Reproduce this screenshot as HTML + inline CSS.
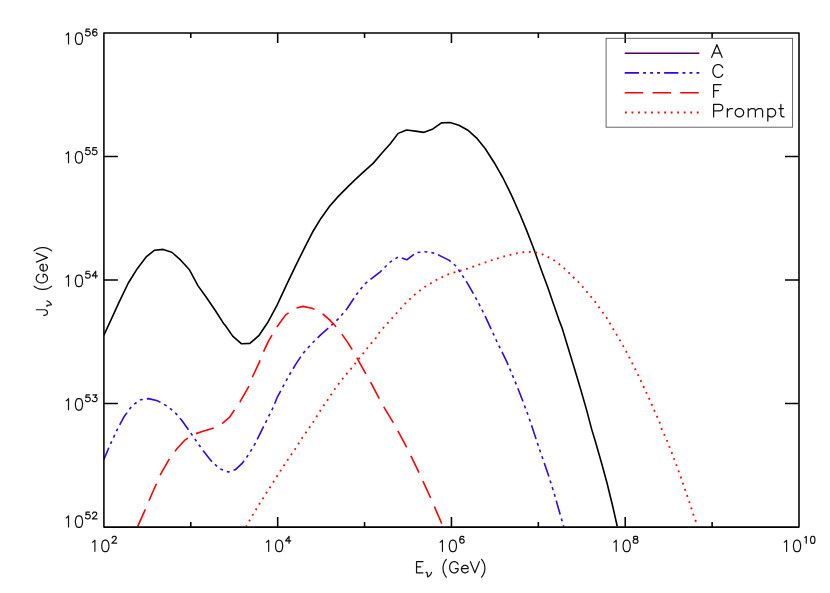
<!DOCTYPE html>
<html><head><meta charset="utf-8"><title>Plot</title>
<style>html,body{margin:0;padding:0;background:#fff;font-family:"Liberation Sans",sans-serif}svg{display:block}</style></head>
<body>
<svg width="830" height="593" viewBox="0 0 830 593">
<rect width="830" height="593" fill="#fff"/>
<defs><clipPath id="cp"><rect x="103.90" y="32.95" width="695.10" height="494.95"/></clipPath></defs>
<g fill="none" stroke-width="1.60" stroke-linejoin="round" clip-path="url(#cp)">
<path d="M103.64,335.60L112.14,317.40L119.22,301.82L128.32,283.00L137.43,268.44L146.13,256.91L154.62,250.23L163.12,249.42L171.82,252.25L180.52,259.94L189.22,269.45L197.92,285.63L206.62,297.77L215.31,310.52L224.01,324.07L225.00,324.97L232.69,336.10L241.59,343.78L249.88,343.38L258.79,335.69L267.69,322.54L277.20,304.94L286.50,284.91L295.60,265.90L303.90,249.10L312.20,232.77L320.90,218.41L329.59,206.27L338.29,196.36L346.99,187.66L355.69,179.16L364.39,171.07L373.09,163.38L381.79,153.27L390.49,143.55L398.15,133.38L406.65,129.94L415.35,131.16L424.05,132.37L432.95,128.93L441.44,122.86L450.14,122.46L458.84,125.29L467.54,129.94L476.44,137.83L485.14,148.55L494.25,162.71L502.74,177.48L511.44,195.08L519.94,214.30L526.62,230.35L532.48,245.52L535.52,253.61L541.59,270.81L547.66,286.99L553.93,305.20L558.78,319.36L562.17,328.21L568.64,349.45L574.51,368.67L580.58,388.90L586.65,410.14L591.70,429.36L595.61,442.25L601.68,463.50L606.94,482.71L612.40,504.97L617.25,526.21" stroke="#000"/>
<path d="M103.64,459.91L110.12,444.74L117.20,429.57L124.28,416.42L132.37,405.29L140.46,399.83L148.55,398.61L157.66,400.84L166.76,405.90L174.85,412.37L181.93,420.46L189.01,430.58L196.10,440.69L203.18,450.81L211.27,460.92L219.33,468.55L228.44,471.99L235.52,469.57L242.60,462.89L248.67,454.39L254.74,444.28L260.81,432.14L265.46,422.83L272.54,408.67L277.60,396.53L283.67,385.40L289.74,374.28L295.81,364.16L301.88,355.06L303.49,352.89L312.19,343.18L320.89,334.68L329.59,326.99L338.29,318.90L346.99,308.78L355.69,295.63L364.39,284.28L371.47,278.61L380.58,271.53L389.68,262.43L398.38,256.76L406.88,259.80L415.98,252.72L424.68,251.70L433.38,252.92L439.25,255.35L449.36,260.40L456.44,266.47L466.30,281.47L473.38,293.61L479.45,304.74L485.52,316.88L491.59,330.03L497.66,343.18L502.71,353.29L507.43,363.15L512.48,375.29L517.54,387.43L523.00,401.59L528.67,416.76L534.74,434.97L539.80,450.14L548.55,475.40L554.22,493.61L559.68,512.83L563.73,526.59" stroke="#3705E1" stroke-dasharray="14.35 4.12 2.93 4.12 2.93 4.12 2.93 4.12" stroke-dashoffset="1.1"/>
<path d="M137.43,527.02L144.91,510.43L152.20,493.23L160.69,474.07L168.78,459.91L176.88,448.78L184.97,440.08L193.06,434.62L202.16,431.59L212.28,428.55L221.38,424.10L229.48,417.43L235.55,408.32L240.00,401.85L248.27,387.43L252.31,377.31L259.39,362.14L263.44,351.88L268.50,341.15L276.59,327.40L285.69,314.85L294.80,308.38L302.89,306.36L311.99,308.18L321.10,312.43L329.59,319.91L338.29,329.01L346.99,341.36L351.73,348.81L357.20,358.32L365.29,372.89L370.35,381.59L378.84,397.77L383.50,406.47L393.00,422.05L397.66,430.55L406.30,446.59L410.35,454.68L418.44,471.47L422.48,480.17L430.58,497.77L441.70,523.47L443.12,526.90" stroke="#FF0000" stroke-dasharray="18.6 9.4" stroke-dashoffset="-0.7"/>
<path d="M246.24,526.21L252.71,515.08L259.39,503.96L266.47,492.83L273.55,481.70L280.63,470.58L287.92,459.45L295.20,448.93L302.28,437.80L309.77,427.08L313.41,421.82L320.69,410.08L328.18,399.16L335.26,388.44L342.94,378.32L351.04,368.61L362.86,353.87L366.91,348.61L371.36,343.15L375.81,338.09L379.57,332.22L388.06,322.71L396.36,313.41L405.26,303.49L414.97,294.39L425.08,286.70L436.21,280.03L447.34,274.57L459.48,270.92L467.31,268.73L479.85,264.28L492.20,260.03L504.74,256.18L517.48,253.15L523.96,252.14L530.43,251.94L536.70,252.54L543.18,254.57L549.25,257.60L554.91,260.84L560.78,265.29L565.43,269.33L570.08,273.99L574.53,278.44L579.01,282.54L587.71,292.66L595.81,302.77L603.29,313.29L606.88,318.09L613.55,329.62L620.43,340.95L626.70,352.48L632.77,364.22L638.44,375.75L643.90,387.48L649.36,399.01L654.42,410.55L659.48,421.88L661.76,429.10L667.22,441.24L672.28,453.99L676.93,466.53L681.38,478.67L685.43,490.81L689.68,502.95L693.52,515.08L697.57,525.60" stroke="#FF0000" stroke-width="1.8" stroke-dasharray="1.8 4.73" stroke-dashoffset="0.85"/>
</g>
<path d="M103.90,32.95H799.00V527.10H103.90ZM190.79,527.10v-5.00M190.79,32.95v5.00M277.68,527.10v-10.00M277.68,32.95v10.00M364.56,527.10v-5.00M364.56,32.95v5.00M451.45,527.10v-10.00M451.45,32.95v10.00M538.34,527.10v-5.00M538.34,32.95v5.00M625.23,527.10v-10.00M625.23,32.95v10.00M712.11,527.10v-5.00M712.11,32.95v5.00M103.90,156.49h14M799.00,156.49h-14M103.90,280.03h14M799.00,280.03h-14M103.90,403.56h14M799.00,403.56h-14" fill="none" stroke="#000" stroke-width="1.55" stroke-linejoin="round"/>
<g fill="none" stroke="#111" stroke-width="1.20" stroke-linecap="round" stroke-linejoin="round">
<path d="M66.20,34.92L66.86,34.55L68.51,32.98L68.51,44.00M78.45,32.87L76.92,33.42L75.90,35.07L75.38,37.82L75.38,39.47L75.90,42.22L76.92,43.87L78.45,44.42L79.47,44.42L81.00,43.87L82.02,42.22L82.53,39.47L82.53,37.82L82.02,35.07L81.00,33.42L79.47,32.87L78.45,32.87M89.57,29.03L86.16,29.03L85.82,31.96L86.16,31.63L87.19,31.31L88.21,31.31L89.23,31.63L89.92,32.28L90.26,33.26L90.26,33.91L89.92,34.89L89.23,35.54L88.21,35.86L87.19,35.86L86.16,35.54L85.82,35.21L85.48,34.56M96.74,30.00L96.39,29.35L95.37,29.03L94.69,29.03L93.67,29.35L92.98,30.33L92.64,31.96L92.64,33.58L92.98,34.89L93.67,35.54L94.69,35.86L95.03,35.86L96.05,35.54L96.74,34.89L97.08,33.91L97.08,33.58L96.74,32.61L96.05,31.96L95.03,31.63L94.69,31.63L93.67,31.96L92.98,32.61L92.64,33.58M66.20,153.60L66.86,153.24L68.51,151.66L68.51,162.69M78.45,151.56L76.92,152.11L75.90,153.76L75.38,156.51L75.38,158.16L75.90,160.91L76.92,162.56L78.45,163.11L79.47,163.11L81.00,162.56L82.02,160.91L82.53,158.16L82.53,156.51L82.02,153.76L81.00,152.11L79.47,151.56L78.45,151.56M89.57,147.71L86.16,147.71L85.82,150.64L86.16,150.32L87.19,149.99L88.21,149.99L89.23,150.32L89.92,150.97L90.26,151.95L90.26,152.60L89.92,153.57L89.23,154.22L88.21,154.55L87.19,154.55L86.16,154.22L85.82,153.90L85.48,153.25M96.39,147.71L92.98,147.71L92.64,150.64L92.98,150.32L94.01,149.99L95.03,149.99L96.05,150.32L96.74,150.97L97.08,151.95L97.08,152.60L96.74,153.57L96.05,154.22L95.03,154.55L94.01,154.55L92.98,154.22L92.64,153.90L92.30,153.25M66.20,277.14L66.86,276.78L68.51,275.20L68.51,286.23M78.45,275.10L76.92,275.65L75.90,277.30L75.38,280.05L75.38,281.70L75.90,284.45L76.92,286.10L78.45,286.65L79.47,286.65L81.00,286.10L82.02,284.45L82.53,281.70L82.53,280.05L82.02,277.30L81.00,275.65L79.47,275.10L78.45,275.10M89.57,271.25L86.16,271.25L85.82,274.18L86.16,273.86L87.19,273.53L88.21,273.53L89.23,273.86L89.92,274.51L90.26,275.48L90.26,276.13L89.92,277.11L89.23,277.76L88.21,278.09L87.19,278.09L86.16,277.76L85.82,277.44L85.48,276.79M95.71,271.25L92.30,275.81L97.42,275.81M95.71,271.25L95.71,278.09M66.20,400.68L66.86,400.31L68.51,398.74L68.51,409.76M78.45,398.63L76.92,399.18L75.90,400.83L75.38,403.58L75.38,405.23L75.90,407.98L76.92,409.63L78.45,410.18L79.47,410.18L81.00,409.63L82.02,407.98L82.53,405.23L82.53,403.58L82.02,400.83L81.00,399.18L79.47,398.63L78.45,398.63M89.57,394.79L86.16,394.79L85.82,397.72L86.16,397.39L87.19,397.07L88.21,397.07L89.23,397.39L89.92,398.04L90.26,399.02L90.26,399.67L89.92,400.65L89.23,401.30L88.21,401.62L87.19,401.62L86.16,401.30L85.82,400.97L85.48,400.32M92.98,394.79L96.74,394.79L94.69,397.39L95.71,397.39L96.39,397.72L96.74,398.04L97.08,399.02L97.08,399.67L96.74,400.65L96.05,401.30L95.03,401.62L94.01,401.62L92.98,401.30L92.64,400.97L92.30,400.32M66.20,517.92L66.86,517.55L68.51,515.98L68.51,527.00M78.45,515.87L76.92,516.42L75.90,518.07L75.38,520.82L75.38,522.47L75.90,525.22L76.92,526.87L78.45,527.42L79.47,527.42L81.00,526.87L82.02,525.22L82.53,522.47L82.53,520.82L82.02,518.07L81.00,516.42L79.47,515.87L78.45,515.87M89.57,512.03L86.16,512.03L85.82,514.96L86.16,514.63L87.19,514.31L88.21,514.31L89.23,514.63L89.92,515.28L90.26,516.26L90.26,516.91L89.92,517.89L89.23,518.54L88.21,518.86L87.19,518.86L86.16,518.54L85.82,518.21L85.48,517.56M92.64,513.65L92.64,513.33L92.98,512.68L93.33,512.35L94.01,512.03L95.37,512.03L96.05,512.35L96.39,512.68L96.74,513.33L96.74,513.98L96.39,514.63L95.71,515.61L92.30,518.86L97.08,518.86M92.58,542.22L93.24,541.85L94.89,540.27L94.89,551.30M104.83,540.17L103.30,540.72L102.28,542.37L101.77,545.12L101.77,546.77L102.28,549.52L103.30,551.17L104.83,551.72L105.85,551.72L107.38,551.17L108.40,549.52L108.92,546.77L108.92,545.12L108.40,542.37L107.38,540.72L105.85,540.17L104.83,540.17M112.20,537.95L112.20,537.63L112.55,536.98L112.89,536.65L113.57,536.33L114.93,536.33L115.61,536.65L115.95,536.98L116.30,537.63L116.30,538.28L115.95,538.93L115.27,539.91L111.86,543.16L116.64,543.16M266.36,542.22L267.01,541.85L268.67,540.27L268.67,551.30M278.60,540.17L277.07,540.72L276.05,542.37L275.54,545.12L275.54,546.77L276.05,549.52L277.07,551.17L278.60,551.72L279.63,551.72L281.16,551.17L282.18,549.52L282.69,546.77L282.69,545.12L282.18,542.37L281.16,540.72L279.63,540.17L278.60,540.17M289.05,536.33L285.64,540.88L290.75,540.88M289.05,536.33L289.05,543.16M440.13,542.22L440.79,541.85L442.44,540.27L442.44,551.30M452.38,540.17L450.85,540.72L449.83,542.37L449.32,545.12L449.32,546.77L449.83,549.52L450.85,551.17L452.38,551.72L453.40,551.72L454.93,551.17L455.95,549.52L456.47,546.77L456.47,545.12L455.95,542.37L454.93,540.72L453.40,540.17L452.38,540.17M463.85,537.30L463.51,536.65L462.48,536.33L461.80,536.33L460.78,536.65L460.10,537.63L459.75,539.26L459.75,540.88L460.10,542.19L460.78,542.84L461.80,543.16L462.14,543.16L463.16,542.84L463.85,542.19L464.19,541.21L464.19,540.88L463.85,539.91L463.16,539.26L462.14,538.93L461.80,538.93L460.78,539.26L460.10,539.91L459.75,540.88M613.91,542.22L614.57,541.85L616.22,540.27L616.22,551.30M626.15,540.17L624.62,540.72L623.60,542.37L623.09,545.12L623.09,546.77L623.60,549.52L624.62,551.17L626.15,551.72L627.18,551.72L628.71,551.17L629.73,549.52L630.24,546.77L630.24,545.12L629.73,542.37L628.71,540.72L627.18,540.17L626.15,540.17M634.89,536.33L633.87,536.65L633.53,537.30L633.53,537.95L633.87,538.61L634.55,538.93L635.92,539.26L636.94,539.58L637.62,540.23L637.96,540.88L637.96,541.86L637.62,542.51L637.28,542.84L636.26,543.16L634.89,543.16L633.87,542.84L633.53,542.51L633.19,541.86L633.19,540.88L633.53,540.23L634.21,539.58L635.23,539.26L636.60,538.93L637.28,538.61L637.62,537.95L637.62,537.30L637.28,536.65L636.26,536.33L634.89,536.33M784.27,542.22L784.93,541.85L786.58,540.27L786.58,551.30M796.52,540.17L794.99,540.72L793.97,542.37L793.45,545.12L793.45,546.77L793.97,549.52L794.99,551.17L796.52,551.72L797.54,551.72L799.07,551.17L800.09,549.52L800.61,546.77L800.61,545.12L800.09,542.37L799.07,540.72L797.54,540.17L796.52,540.17M804.85,537.53L805.26,537.30L806.28,536.33L806.28,543.16M812.44,536.26L811.49,536.60L810.86,537.63L810.54,539.33L810.54,540.35L810.86,542.06L811.49,543.08L812.44,543.42L813.08,543.42L814.03,543.08L814.66,542.06L814.98,540.35L814.98,539.33L814.66,537.63L814.03,536.60L813.08,536.26L812.44,536.26M416.54,561.67L416.54,572.80M416.54,561.67L422.98,561.67M416.54,566.97L420.74,566.97M416.54,572.80L422.98,572.80M425.98,572.33L427.02,572.33L427.37,574.63L427.72,576.93M431.54,572.33L431.19,573.32L430.50,574.63L429.11,575.95L427.72,576.93M446.31,559.44L445.38,560.54L444.45,562.19L443.53,564.39L443.06,567.14L443.06,569.34L443.53,572.09L444.45,574.29L445.38,575.94L446.31,577.04M458.07,564.32L457.51,563.26L456.39,562.20L455.27,561.67L453.03,561.67L451.91,562.20L450.79,563.26L450.23,564.32L449.67,565.91L449.67,568.56L450.23,570.15L450.79,571.21L451.91,572.27L453.03,572.80L455.27,572.80L456.39,572.27L457.51,571.21L458.07,570.15L458.07,568.56M455.27,568.56L458.07,568.56M461.43,568.56L468.15,568.56L468.15,567.50L467.59,566.44L467.03,565.91L465.91,565.38L464.23,565.38L463.11,565.91L461.99,566.97L461.43,568.56L461.43,569.62L461.99,571.21L463.11,572.27L464.23,572.80L465.91,572.80L467.03,572.27L468.15,571.21M470.39,561.67L474.87,572.80M479.35,561.67L474.87,572.80M481.59,559.44L482.52,560.54L483.45,562.19L484.37,564.39L484.84,567.14L484.84,569.34L484.37,572.09L483.45,574.29L482.52,575.94L481.59,577.04"/>
<path d="M6.72,-11.13L6.72,-2.65L6.16,-1.06L5.60,-0.53L4.48,0.00L3.36,0.00L2.24,-0.53L1.68,-1.06L1.12,-2.65L1.12,-3.71M10.00,-0.47L11.04,-0.47L11.39,1.83L11.74,4.13M15.56,-0.47L15.21,0.52L14.52,1.83L13.13,3.15L11.74,4.13M30.33,-13.36L29.40,-12.26L28.47,-10.61L27.55,-8.41L27.08,-5.66L27.08,-3.46L27.55,-0.71L28.47,1.49L29.40,3.14L30.33,4.24M42.09,-8.48L41.53,-9.54L40.41,-10.60L39.29,-11.13L37.05,-11.13L35.93,-10.60L34.81,-9.54L34.25,-8.48L33.69,-6.89L33.69,-4.24L34.25,-2.65L34.81,-1.59L35.93,-0.53L37.05,0.00L39.29,0.00L40.41,-0.53L41.53,-1.59L42.09,-2.65L42.09,-4.24M39.29,-4.24L42.09,-4.24M45.45,-4.24L52.17,-4.24L52.17,-5.30L51.61,-6.36L51.05,-6.89L49.93,-7.42L48.25,-7.42L47.13,-6.89L46.01,-5.83L45.45,-4.24L45.45,-3.18L46.01,-1.59L47.13,-0.53L48.25,0.00L49.93,0.00L51.05,-0.53L52.17,-1.59M54.41,-11.13L58.89,0.00M63.37,-11.13L58.89,0.00M65.61,-13.36L66.54,-12.26L67.47,-10.61L68.39,-8.41L68.86,-5.66L68.86,-3.46L68.39,-0.71L67.47,1.49L66.54,3.14L65.61,4.24" transform="translate(47.4,316.48) rotate(-90)"/>
<path d="M716.88,44.70L711.65,57.30M716.88,44.70L722.10,57.30M713.61,53.10L720.14,53.10M722.75,67.70L722.10,66.50L720.79,65.30L719.49,64.70L716.88,64.70L715.57,65.30L714.26,66.50L713.61,67.70L712.96,69.50L712.96,72.50L713.61,74.30L714.26,75.50L715.57,76.70L716.88,77.30L719.49,77.30L720.79,76.70L722.10,75.50L722.75,74.30M713.61,84.60L713.61,97.20M713.61,84.60L721.12,84.60M713.61,90.60L718.51,90.60M713.61,104.30L713.61,116.90M713.61,104.30L719.49,104.30L721.45,104.90L722.10,105.50L722.75,106.70L722.75,108.50L722.10,109.70L721.45,110.30L719.49,110.90L713.61,110.90M727.32,108.50L727.32,116.90M727.32,112.10L727.98,110.30L729.28,109.10L730.59,108.50L732.55,108.50M738.43,108.50L737.12,109.10L735.81,110.30L735.16,112.10L735.16,113.30L735.81,115.10L737.12,116.30L738.43,116.90L740.38,116.90L741.69,116.30L743.00,115.10L743.65,113.30L743.65,112.10L743.00,110.30L741.69,109.10L740.38,108.50L738.43,108.50M748.22,108.50L748.22,116.90M748.22,110.90L750.18,109.10L751.49,108.50L753.45,108.50L754.75,109.10L755.40,110.90L755.40,116.90M755.40,110.90L757.36,109.10L758.67,108.50L760.63,108.50L761.93,109.10L762.59,110.90L762.59,116.90M767.81,108.50L767.81,121.10M767.81,110.30L769.12,109.10L770.42,108.50L772.38,108.50L773.69,109.10L774.99,110.30L775.65,112.10L775.65,113.30L774.99,115.10L773.69,116.30L772.38,116.90L770.42,116.90L769.12,116.30L767.81,115.10M780.87,104.30L780.87,114.50L781.52,116.30L782.83,116.90L784.14,116.90M778.91,108.50L783.48,108.50" stroke-width="1.25"/>
</g>
<rect x="606.1" y="38.3" width="186.5" height="88.9" fill="none" stroke="#555" stroke-width="0.9"/>
<g fill="none" stroke-width="1.60">
<path d="M624.7,53.2H699.3" stroke="#4B005A"/>
<path d="M624.7,72.9H699.3" stroke="#3705E1" stroke-dasharray="14.3 4.1 2.9 4.1 2.9 4.1 2.9 4.1"/>
<path d="M624.7,92.7H699.3" stroke="#FF0000" stroke-dasharray="18.5 9.3"/>
<path d="M624.7,112.5H699.3" stroke="#FF0000" stroke-width="1.8" stroke-dasharray="1.8 4.73" stroke-dashoffset="-0.3"/>
</g>
</svg>
</body></html>
